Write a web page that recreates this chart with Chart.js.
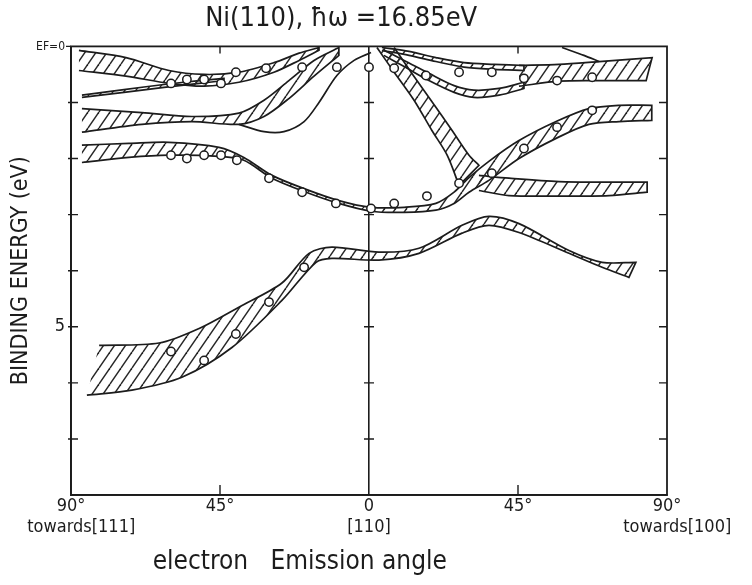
<!DOCTYPE html>
<html lang="en">
<head>
    <meta charset="UTF-8">
    <title>Ni(110) band mapping</title>
    <script src="https://cdn.jsdelivr.net/npm/chart.js"></script>
    <style>
        body { margin: 0; background: #fff; }
        .chart-box { width: 752px; height: 585px; }
    </style>
</head>
<body>
    <div class="chart-box">
        <canvas id="bandChart"></canvas>
    </div>

    <script>
        // angle in degrees (negative = towards [111], positive = towards [100]),
        // energy = binding energy in eV below E_F
        const angleTicks = [-90, -45, 0, 45, 90];
        const angleLabels = [['90°', '    towards[111]'], '45°', ['0', '[110]'], '45°', ['90°', '    towards[100]']];
        const energyTicks = [0, 5];
        const energyLabels = ['EF=0', '5'];

        // hatched bands: upper edge and lower edge, [angle, energy]
        const topLeftHi = [[-87.6, 0.07], [-73.4, 0.20], [-60.4, 0.43], [-49.8, 0.50], [-39.3, 0.46], [-28.7, 0.29], [-21.1, 0.12], [-15.1, 0.02]];
        const topLeftLo = [[-87.6, 0.43], [-73.4, 0.53], [-60.4, 0.66], [-49.8, 0.71], [-39.3, 0.64], [-28.7, 0.46], [-21.1, 0.25], [-15.1, 0.07]];

        const wedgeHi = [[-86.7, 0.87], [-74.0, 0.77], [-61.9, 0.68], [-51.3, 0.61], [-43.8, 0.57]];
        const wedgeLo = [[-86.7, 0.91], [-74.0, 0.82], [-61.9, 0.73], [-51.3, 0.66], [-43.8, 0.61]];

        const secondHi = [[-86.7, 1.11], [-68.6, 1.18], [-53.5, 1.25], [-39.3, 1.19], [-31.7, 0.96], [-24.2, 0.61], [-16.6, 0.25], [-9.1, 0.02]];
        const secondLo = [[-86.7, 1.53], [-68.6, 1.39], [-53.5, 1.34], [-39.3, 1.39], [-31.7, 1.25], [-24.2, 0.93], [-16.6, 0.53], [-9.1, 0.16]];

        const uBandHi = [[-86.7, 1.76], [-72.5, 1.73], [-60.4, 1.71], [-45.3, 1.80], [-37.8, 1.98], [-29.3, 2.30], [-19.0, 2.55], [-9.1, 2.75], [0.6, 2.87], [10.6, 2.87], [20.2, 2.80], [25.7, 2.60], [30.2, 2.34], [36.2, 2.05], [45.3, 1.68], [56.5, 1.34], [66.4, 1.11], [75.5, 1.05], [85.4, 1.05]];
        const uBandLo = [[-86.7, 2.07], [-72.5, 1.98], [-60.4, 1.94], [-45.3, 1.96], [-37.8, 2.03], [-29.3, 2.35], [-19.0, 2.60], [-9.1, 2.80], [0.6, 2.94], [10.6, 2.96], [20.2, 2.92], [25.7, 2.80], [30.2, 2.60], [36.2, 2.39], [45.3, 2.00], [56.5, 1.64], [66.4, 1.39], [75.5, 1.34], [85.4, 1.32]];

        const steepLeft = [[2.4, 0.02], [7.6, 0.46], [13.6, 0.96], [19.0, 1.50], [23.6, 1.94], [27.2, 2.48]];
        const steepRight = [[7.6, 0.02], [12.7, 0.46], [18.7, 0.96], [25.1, 1.50], [30.2, 1.94], [33.2, 2.12]];

        const rightLowHi = [[33.2, 2.30], [42.3, 2.35], [57.4, 2.41], [72.5, 2.42], [84.0, 2.42]];
        const rightLowLo = [[33.2, 2.57], [42.3, 2.66], [57.4, 2.67], [72.5, 2.66], [84.0, 2.60]];

        const thinTopHi = [[3.9, 0.02], [12.1, 0.09], [20.2, 0.20], [28.7, 0.29], [37.8, 0.32], [46.8, 0.34]];
        const thinTopLo = [[3.9, 0.07], [12.1, 0.16], [20.2, 0.27], [28.7, 0.37], [37.8, 0.41], [46.8, 0.43]];

        const dipHi = [[4.5, 0.07], [10.6, 0.25], [18.1, 0.48], [25.7, 0.70], [31.7, 0.78], [39.3, 0.75], [46.8, 0.64]];
        const dipLo = [[4.5, 0.16], [10.6, 0.36], [18.1, 0.61], [25.7, 0.82], [31.7, 0.91], [39.3, 0.87], [46.8, 0.75]];

        const topRightHi = [[45.3, 0.34], [57.4, 0.32], [69.5, 0.27], [85.5, 0.20]];
        const topRightLo = [[45.3, 0.71], [57.4, 0.62], [69.5, 0.61], [83.7, 0.61]];

        const lowHi = [[-81.5, 5.33], [-63.4, 5.29], [-51.3, 5.03], [-39.3, 4.65], [-26.3, 4.22], [-18.1, 3.69], [-11.2, 3.58], [3.0, 3.67], [15.1, 3.60], [28.1, 3.19], [36.2, 3.03], [45.3, 3.16], [60.4, 3.64], [70.4, 3.85], [80.6, 3.85]];
        const lowLo = [[-85.2, 6.22], [-71.6, 6.13], [-56.5, 5.90], [-41.4, 5.37], [-26.3, 4.53], [-16.0, 3.85], [-11.2, 3.78], [3.0, 3.81], [15.1, 3.69], [28.1, 3.33], [36.2, 3.19], [45.3, 3.32], [60.4, 3.69], [70.4, 3.94], [78.5, 4.12]];

        // single lines
        const loopLine = [[-39.3, 1.39], [-31.7, 1.52], [-25.7, 1.52], [-19.6, 1.34], [-15.1, 1.00], [-9.7, 0.52], [-4.5, 0.25], [0.6, 0.11]];
        const tailLine = [[58.3, 0.02], [64.9, 0.16], [69.5, 0.27]];

        // measured peaks (open circles)
        const measured = [
            [-59.8, 0.66], [-55.0, 0.59], [-49.8, 0.59], [-44.7, 0.66], [-40.2, 0.46], [-31.1, 0.39], [-20.2, 0.37], [-9.7, 0.37],
            [0, 0.37], [7.6, 0.39], [17.2, 0.52], [27.2, 0.46], [37.1, 0.46], [46.8, 0.57], [56.8, 0.61], [67.4, 0.55],
            [67.4, 1.14], [56.8, 1.44], [46.8, 1.82], [37.1, 2.26], [27.2, 2.44], [17.5, 2.67], [7.6, 2.80],
            [-59.8, 1.94], [-55.0, 2.00], [-49.8, 1.94], [-44.7, 1.94], [-39.9, 2.03], [-30.2, 2.35], [-20.2, 2.60], [-10.0, 2.80], [0.6, 2.89],
            [-59.8, 5.44], [-49.8, 5.60], [-40.2, 5.13], [-30.2, 4.56], [-19.6, 3.94]
        ];

        const ink = '#1c1c1c';
        const fontFamily = "'DejaVu Sans Condensed', 'Liberation Sans Narrow', 'DejaVu Sans', sans-serif";

        function makeHatch() {
            const c = document.createElement('canvas');
            const w = 11, h = 16;
            c.width = w;
            c.height = h;
            const g = c.getContext('2d');
            g.strokeStyle = '#262626';
            g.lineWidth = 1.5;
            for (const dx of [-w, 0, w]) {
                g.beginPath();
                g.moveTo(dx, h);
                g.lineTo(dx + w, 0);
                g.stroke();
            }
            return g.createPattern(c, 'repeat');
        }
        const hatch = makeHatch();

        const toXY = pts => pts.map(([x, y]) => ({x, y}));
        // closed outline: along one edge, back along the other.
        // end points are doubled so the spline keeps a sharp end
        const outline = (hi, lo) => {
            const back = lo.slice().reverse();
            return toXY([...hi, hi[hi.length - 1], back[0], ...back]);
        };

        function bandSet(label, hi, lo) {
            return {
                label: label,
                data: outline(hi, lo),
                showLine: true,
                fill: 'shape',
                backgroundColor: hatch,
                borderColor: ink,
                borderWidth: 1.7,
                pointRadius: 0,
                tension: 0.3,
                order: 2
            };
        }
        function lineSet(label, pts) {
            return {
                label: label,
                data: toXY(pts),
                showLine: true,
                fill: false,
                borderColor: ink,
                borderWidth: 1.7,
                pointRadius: 0,
                tension: 0.3,
                order: 1
            };
        }

        // box around the plot and the small inward ticks
        const frame = {
            id: 'frame',
            afterDatasetsDraw(chart) {
                const {ctx, chartArea: a, scales: {x, y}} = chart;
                const cx = x.getPixelForValue(0);
                ctx.save();
                ctx.strokeStyle = ink;
                ctx.lineWidth = 1.8;
                ctx.strokeRect(a.left, a.top, a.right - a.left, a.bottom - a.top);
                ctx.lineWidth = 1.4;
                ctx.beginPath();
                for (let e = 1; e < 8; e++) {
                    const py = y.getPixelForValue(e);
                    ctx.moveTo(a.left - 3, py); ctx.lineTo(a.left + 7, py);
                    ctx.moveTo(a.right - 8, py); ctx.lineTo(a.right, py);
                    ctx.moveTo(cx - 5, py); ctx.lineTo(cx + 5, py);
                }
                for (const ang of [-45, 45]) {
                    const px = x.getPixelForValue(ang);
                    ctx.moveTo(px, a.top); ctx.lineTo(px, a.top + 7);
                    ctx.moveTo(px, a.bottom); ctx.lineTo(px, a.bottom - 10);
                }
                ctx.moveTo(a.left - 5, a.top); ctx.lineTo(a.left, a.top);
                ctx.stroke();
                ctx.restore();
            }
        };

        const ctx = document.getElementById('bandChart').getContext('2d');
        new Chart(ctx, {
            type: 'scatter',
            data: {
                datasets: [
                    {
                        label: 'measured',
                        data: toXY(measured),
                        pointRadius: 4.2,
                        pointBackgroundColor: '#fff',
                        pointBorderColor: ink,
                        pointBorderWidth: 1.5,
                        order: 0
                    },
                    lineSet('loop', loopLine),
                    lineSet('tail', tailLine),
                    bandSet('top left', topLeftHi, topLeftLo),
                    bandSet('wedge', wedgeHi, wedgeLo),
                    bandSet('second', secondHi, secondLo),
                    bandSet('u band', uBandHi, uBandLo),
                    bandSet('steep', steepLeft, steepRight),
                    bandSet('right low', rightLowHi, rightLowLo),
                    bandSet('thin top', thinTopHi, thinTopLo),
                    bandSet('dip', dipHi, dipLo),
                    bandSet('top right', topRightHi, topRightLo),
                    bandSet('low', lowHi, lowLo)
                ]
            },
            options: {
                responsive: true,
                maintainAspectRatio: false,
                animation: false,
                layout: { padding: { left: 0, right: 85, top: 0, bottom: 0 } },
                scales: {
                    x: {
                        type: 'linear',
                        min: -90,
                        max: 90,
                        afterFit: s => { s.height = 90; },
                        afterBuildTicks: s => { s.ticks = angleTicks.map(v => ({value: v})); },
                        ticks: {
                            autoSkip: false,
                            maxRotation: 0,
                            padding: 1,
                            color: ink,
                            font: { family: fontFamily, size: 18, lineHeight: 1.15 },
                            callback: value => angleLabels[angleTicks.indexOf(value)]
                        },
                        grid: {
                            drawTicks: false,
                            lineWidth: 1.6,
                            color: c => (c.tick && c.tick.value === 0 ? ink : 'rgba(0,0,0,0)')
                        },
                        border: { display: true, color: ink, width: 1.8 },
                        title: {
                            display: true,
                            text: '           electron   Emission angle',
                            align: 'start',
                            color: ink,
                            font: { family: fontFamily, size: 26, lineHeight: 1.2 },
                            padding: { top: 0, bottom: 7 }
                        }
                    },
                    y: {
                        type: 'linear',
                        reverse: true,
                        min: 0,
                        max: 8,
                        afterFit: s => { s.width = 71; },
                        ticks: {
                            stepSize: 1,
                            autoSkip: false,
                            padding: 6,
                            color: ink,
                            font: c => ({ family: fontFamily, size: c.tick && c.tick.value === 0 ? 12 : 18 }),
                            callback: value => {
                                const i = energyTicks.indexOf(value);
                                return i < 0 ? '' : energyLabels[i];
                            }
                        },
                        grid: { display: false, drawTicks: false },
                        border: { display: true, color: ink, width: 1.8 },
                        title: {
                            display: true,
                            text: 'BINDING ENERGY (eV)',
                            color: ink,
                            font: { family: fontFamily, size: 23, lineHeight: 1.2 },
                            padding: { top: 7, bottom: 0 }
                        }
                    }
                },
                plugins: {
                    legend: { display: false },
                    tooltip: { enabled: false },
                    title: {
                        display: true,
                        text: '  Ni(110), ħω =16.85eV',
                        color: ink,
                        font: { family: fontFamily, size: 27, weight: 'normal', lineHeight: 1.2 },
                        padding: { top: 3, bottom: 11 }
                    }
                }
            },
            plugins: [frame]
        });
    </script>
</body>
</html>
